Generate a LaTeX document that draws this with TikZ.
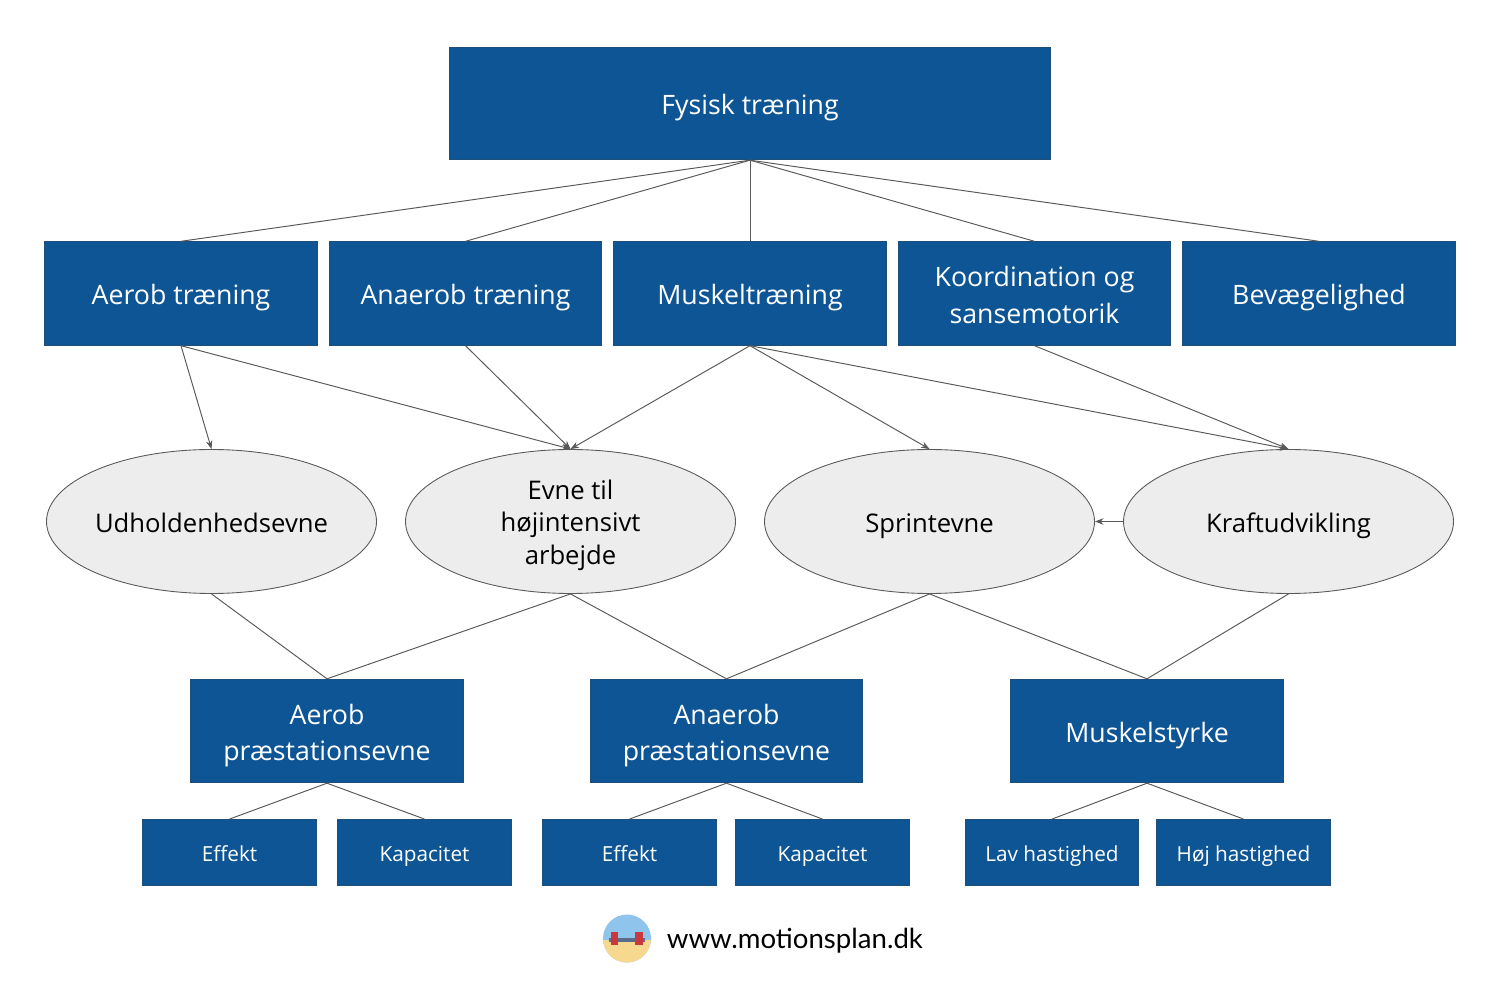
\documentclass[tikz,border=0pt]{standalone}
\usepackage{fontspec}
\setmainfont{Open Sans}
\newfontfamily\urlfont{Lato}
\usepackage{xcolor}
\usetikzlibrary{arrows.meta, shapes.geometric}

\definecolor{boxblue}{HTML}{0E5596}
\definecolor{boxedge}{HTML}{1F4E79}
\definecolor{linegray}{HTML}{595959}
\definecolor{ovalgray}{HTML}{EDEDED}
\definecolor{logosky}{HTML}{8FC5EC}
\definecolor{logosand}{HTML}{F6D98E}
\definecolor{logored}{HTML}{C8383C}
\definecolor{logobar}{HTML}{5B6B8C}

\tikzset{
    bluebox/.style={rectangle, draw=boxedge, line width=0.5pt, fill=boxblue, text=white, align=center, inner sep=0pt},
    topbox/.style={bluebox, minimum width=12.02cm, minimum height=2.25cm, font=\fontsize{15.2}{21}\selectfont},
    mainbox/.style={bluebox, minimum width=5.45cm, minimum height=2.07cm, font=\fontsize{15.2}{21}\selectfont},
    smallbox/.style={bluebox, minimum width=3.47cm, minimum height=1.32cm, text height=10.2pt, text depth=0pt, font=\fontsize{11.8}{15}\selectfont},
    oneline/.style={text height=12.6pt, text depth=0pt},
    oval/.style={ellipse, draw=linegray, line width=0.5pt, fill=ovalgray, text=black, align=center, inner sep=0pt, minimum width=6.6cm, minimum height=2.88cm, font=\fontsize{14.6}{18.3}\selectfont},
    plainline/.style={draw=linegray, line width=0.55pt},
    arrowline/.style={plainline, -{Stealth[length=1.7mm, width=1.3mm]}}
}

\begin{document}
\begin{tikzpicture}
    \useasboundingbox (0, 0) rectangle (30, 20);

    % top box
    \node[topbox, oneline] (fysisk) at (15, 17.93) {Fysisk træning};

    % training forms
    \node[mainbox, oneline] (aerob) at (3.62, 14.13) {Aerob træning};
    \node[mainbox, oneline] (anaerob) at (9.31, 14.13) {Anaerob træning};
    \node[mainbox, oneline] (muskel) at (15, 14.13) {Muskeltræning};
    \node[mainbox] (koord) at (20.69, 14.13) {\rule{0pt}{13pt}Koordination og\\sansemotorik};
    \node[mainbox, oneline] (bevaeg) at (26.38, 14.13) {Bevægelighed};

    % abilities
    \node[oval, oneline] (udhold) at (4.23, 9.57) {Udholdenhedsevne};
    \node[oval] (evne) at (11.41, 9.57) {\rule{0pt}{15.4pt}Evne til\\højintensivt\\arbejde};
    \node[oval, oneline] (sprint) at (18.59, 9.57) {Sprintevne};
    \node[oval, oneline] (kraft) at (25.77, 9.57) {Kraftudvikling};

    % performance
    \node[mainbox] (aerobpr) at (6.54, 5.38) {\rule{0pt}{16.7pt}Aerob\\præstationsevne};
    \node[mainbox] (anaerobpr) at (14.53, 5.38) {\rule{0pt}{16.7pt}Anaerob\\præstationsevne};
    \node[mainbox, oneline] (styrke) at (22.94, 5.38) {Muskelstyrke};

    \node[smallbox] (effekta) at (4.59, 2.95) {Effekt};
    \node[smallbox] (kapa) at (8.49, 2.95) {Kapacitet};
    \node[smallbox] (effektb) at (12.59, 2.95) {Effekt};
    \node[smallbox] (kapb) at (16.45, 2.95) {Kapacitet};
    \node[smallbox] (lav) at (21.04, 2.95) {Lav hastighed};
    \node[smallbox] (hoj) at (24.87, 2.95) {Høj hastighed};

    \draw[plainline] (fysisk.south) -- (aerob.north);
    \draw[plainline] (fysisk.south) -- (anaerob.north);
    \draw[plainline] (fysisk.south) -- (muskel.north);
    \draw[plainline] (fysisk.south) -- (koord.north);
    \draw[plainline] (fysisk.south) -- (bevaeg.north);

    \draw[arrowline] (aerob.south) -- (udhold.north);
    \draw[arrowline] (aerob.south) -- (evne.north);
    \draw[arrowline] (anaerob.south) -- (evne.north);
    \draw[arrowline] (muskel.south) -- (evne.north);
    \draw[arrowline] (muskel.south) -- (sprint.north);
    \draw[arrowline] (muskel.south) -- (kraft.north);
    \draw[arrowline] (koord.south) -- (kraft.north);
    \draw[arrowline] (kraft.west) -- (sprint.east);

    \draw[plainline] (udhold.south) -- (aerobpr.north);
    \draw[plainline] (evne.south) -- (aerobpr.north);
    \draw[plainline] (evne.south) -- (anaerobpr.north);
    \draw[plainline] (sprint.south) -- (anaerobpr.north);
    \draw[plainline] (sprint.south) -- (styrke.north);
    \draw[plainline] (kraft.south) -- (styrke.north);

    \draw[plainline] (aerobpr.south) -- (effekta.north);
    \draw[plainline] (aerobpr.south) -- (kapa.north);
    \draw[plainline] (anaerobpr.south) -- (effektb.north);
    \draw[plainline] (anaerobpr.south) -- (kapb.north);
    \draw[plainline] (styrke.south) -- (lav.north);
    \draw[plainline] (styrke.south) -- (hoj.north);

    % logo
    \begin{scope}
        \clip (12.54, 1.23) circle (0.48);
        \fill[logosky] (12, 0.7) rectangle (13.1, 1.8);
        \fill[logosand] (12, 0.7) rectangle (13.1, 1.2);
    \end{scope}
    \fill[logobar] (12.18, 1.17) rectangle (12.9, 1.24);
    \fill[logored] (12.21, 1.1) rectangle (12.36, 1.36);
    \fill[logored] (12.7, 1.1) rectangle (12.86, 1.36);

    \node[anchor=west, inner sep=0pt, font=\urlfont\fontsize{15.7}{18}\selectfont] (url) at (13.33, 1.18) {www.motionsplan.dk};
\end{tikzpicture}
\end{document}
